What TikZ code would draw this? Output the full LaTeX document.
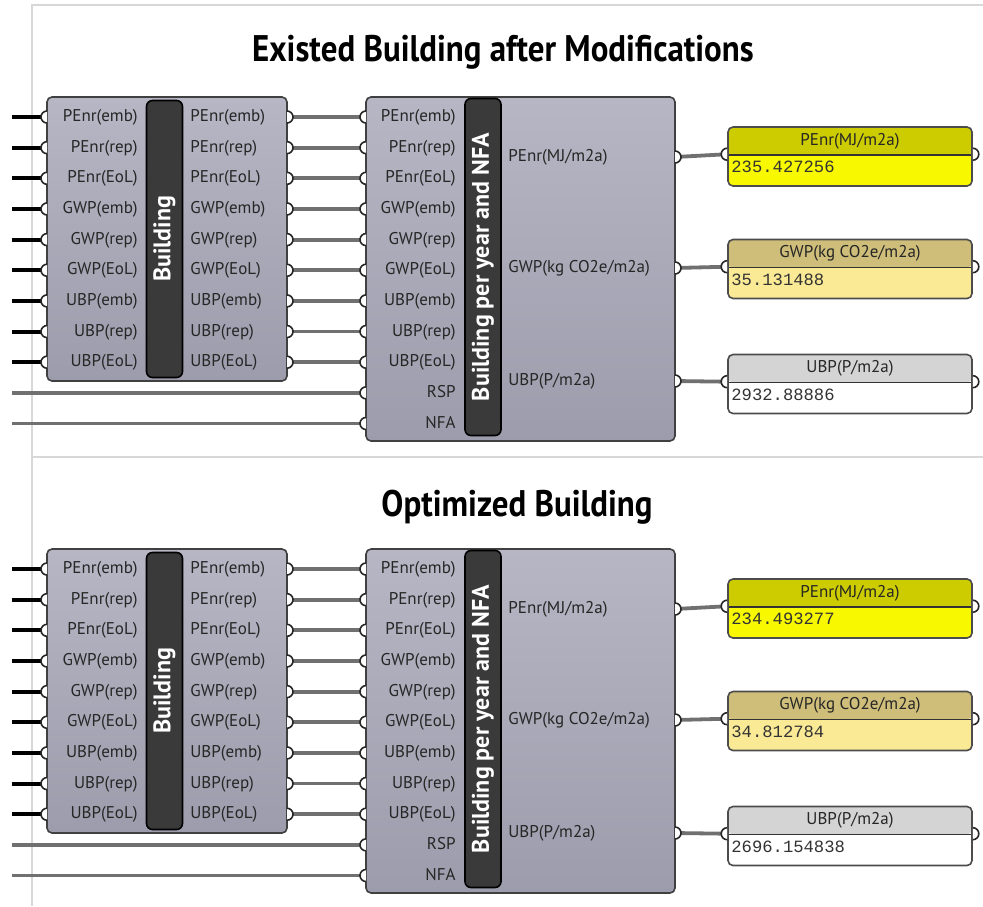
\documentclass[tikz,border=0pt]{standalone}
\usepackage{fontspec}
\setmainfont{PT Sans}
\setmonofont{Liberation Mono}
\usetikzlibrary{positioning}
\definecolor{compfill}{RGB}{156,156,172}
\definecolor{comptop}{RGB}{182,182,196}
\definecolor{barfill}{RGB}{58,58,58}
\definecolor{wiregray}{RGB}{112,112,112}
\definecolor{framegray}{RGB}{215,215,215}
\definecolor{penrhead}{RGB}{204,204,0}
\definecolor{penrbody}{RGB}{248,248,0}
\definecolor{gwphead}{RGB}{206,190,122}
\definecolor{gwpbody}{RGB}{250,234,150}
\definecolor{ubphead}{RGB}{212,212,212}
\tikzset{
	frame/.style={draw=framegray, line width=1.2pt}, % panel border of the canvas
	title/.style={font=\fontsize{18.5pt}{20pt}\selectfont\bfseries},
	comp/.style={draw=black!75, line width=0.8pt, rounded corners=2.5pt, top color=comptop, bottom color=compfill, inner sep=0pt},
	bar/.style={draw=black, line width=0.8pt, fill=barfill, rounded corners=3pt, inner sep=0pt, text=white, font=\fontsize{12pt}{13pt}\selectfont\bfseries},
	lbl/.style={inner sep=0pt, text height=6.2pt, text depth=1.7pt, text=black!85, font=\fontsize{8.5pt}{9pt}\selectfont},
	val/.style={inner sep=0pt, text=black!80, font=\fontsize{8.6pt}{9pt}\selectfont\ttfamily},
	panel/.style 2 args={draw=black!70, line width=0.8pt, rounded corners=2.5pt, minimum width=122pt, minimum height=29.5pt, inner sep=0pt, fill=#2,
		path picture={
			\fill[#1] (path picture bounding box.north west) rectangle ([yshift=-14pt]path picture bounding box.north east);
			\draw[black!80, line width=0.8pt] ([yshift=-14pt]path picture bounding box.north west) -- ([yshift=-14pt]path picture bounding box.north east);
		}},
	srcwire/.style={draw=black, line width=2pt},
	wire/.style={draw=wiregray, line width=1.9pt},
	portline/.style={draw=black!85, line width=0.8pt, fill=white},
	inport/.pic={\draw[portline] (0,3pt) arc[start angle=90, end angle=270, radius=3pt];},
	outport/.pic={\draw[portline] (0,3pt) arc[start angle=90, end angle=-90, radius=3pt];},
}

\begin{document}
\begin{tikzpicture}[x=0.5pt, y=-0.5pt]
	\useasboundingbox (0,0) rectangle (983,906);
	% canvas frame
	\draw[frame] (32,906) -- (32,5) -- (983,5);
	\draw[frame] (32,457) -- (983,457);
	
	\foreach \s/\oy/\ttl/\tx/\ty/\va/\vb/\vc in {1/0/Existed Building after Modifications/503/52/235.427256/35.131488/2932.88886, 2/452/Optimized Building/517/507/234.493277/34.812784/2696.154838}{
		\node[title] (title\s) at (\tx,\ty) {\scalebox{0.89}[1]{\ttl}};
		
		% Define components
		\node[comp, minimum width=120pt, minimum height=142pt] (bld\s) at (167,{239+\oy}) {};
		\node[bar, rotate=90, minimum width=138.5pt, minimum height=18pt] (bldbar\s) at (164.5,{239+\oy}) {Building};
		\node[comp, minimum width=154.5pt, minimum height=172pt] (per\s) at (520.5,{269+\oy}) {};
		\node[bar, rotate=90, minimum width=168.5pt, minimum height=18pt] (perbar\s) at (483,{267+\oy}) {Building per year and NFA};
		
		\foreach \n [count=\i] in {PEnr(emb),PEnr(rep),PEnr(EoL),GWP(emb),GWP(rep),GWP(EoL),UBP(emb),UBP(rep),UBP(EoL),RSP,NFA}{
			\pgfmathsetmacro\ry{117+(\i-1)*30.65+\oy}
			\node[lbl, anchor=east] (perin\s-\i) at (456,\ry) {\n};
			\coordinate (perip\s-\i) at (366,\ry);
			\coordinate (src\s-\i) at (12,\ry);
			\ifnum\i<10
				\node[lbl, anchor=east] (bldin\s-\i) at (138,\ry) {\n};
				\node[lbl, anchor=west] (bldout\s-\i) at (190,\ry) {\n};
				\coordinate (bldip\s-\i) at (47,\ry);
				\coordinate (bldop\s-\i) at (287,\ry);
			\fi
		}
		\node[lbl, anchor=west] (perout\s-1) at (508,{157+\oy}) {PEnr(MJ/m2a)};
		\node[lbl, anchor=west] (perout\s-2) at (508,{268+\oy}) {GWP(kg CO2e/m2a)};
		\node[lbl, anchor=west] (perout\s-3) at (508,{381+\oy}) {UBP(P/m2a)};
		\foreach \i/\yy in {1/157,2/268,3/381}
			\coordinate (perop\s-\i) at (675,{\yy+\oy});
		
		% Panels
		\node[panel={penrhead}{penrbody}] (pan\s-1) at (850,{156.5+\oy}) {};
		\node[panel={gwphead}{gwpbody}] (pan\s-2) at (850,{269+\oy}) {};
		\node[panel={ubphead}{white}] (pan\s-3) at (850,{384+\oy}) {};
		\node[lbl, below=3pt of pan\s-1.north] (panhd\s-1) {PEnr(MJ/m2a)};
		\node[lbl, below=3pt of pan\s-2.north] (panhd\s-2) {GWP(kg CO2e/m2a)};
		\node[lbl, below=3pt of pan\s-3.north] (panhd\s-3) {UBP(P/m2a)};
		\node[val, anchor=west] (panval\s-1) at (731,{167+\oy}) {\va};
		\node[val, anchor=west] (panval\s-2) at (731,{280+\oy}) {\vb};
		\node[val, anchor=west] (panval\s-3) at (731,{395+\oy}) {\vc};
		\foreach \i in {1,2,3}{
			\coordinate (panip\s-\i) at ([yshift=-14pt]pan\s-\i.north west);
			\coordinate (panop\s-\i) at ([yshift=-14pt]pan\s-\i.north east);
		}
		
		% Wires
		\foreach \i in {1,...,9}{
			\draw[srcwire] (src\s-\i) -- (bldip\s-\i);
			\draw[wire] (bldop\s-\i) -- (perip\s-\i);
		}
		\draw[wire] (src\s-10) -- (perip\s-10);
		\draw[wire] (src\s-11) -- (perip\s-11);
		\foreach \i in {1,2,3}
			\draw[wire] (perop\s-\i) -- (panip\s-\i);
		
		% Ports
		\foreach \i in {1,...,9}{
			\pic at (bldip\s-\i) {inport};
			\pic at (bldop\s-\i) {outport};
		}
		\foreach \i in {1,...,11}
			\pic at (perip\s-\i) {inport};
		\foreach \i in {1,2,3}{
			\pic at (perop\s-\i) {outport};
			\pic at (panip\s-\i) {inport};
			\pic at (panop\s-\i) {outport};
		}
	}
\end{tikzpicture}
\end{document}
